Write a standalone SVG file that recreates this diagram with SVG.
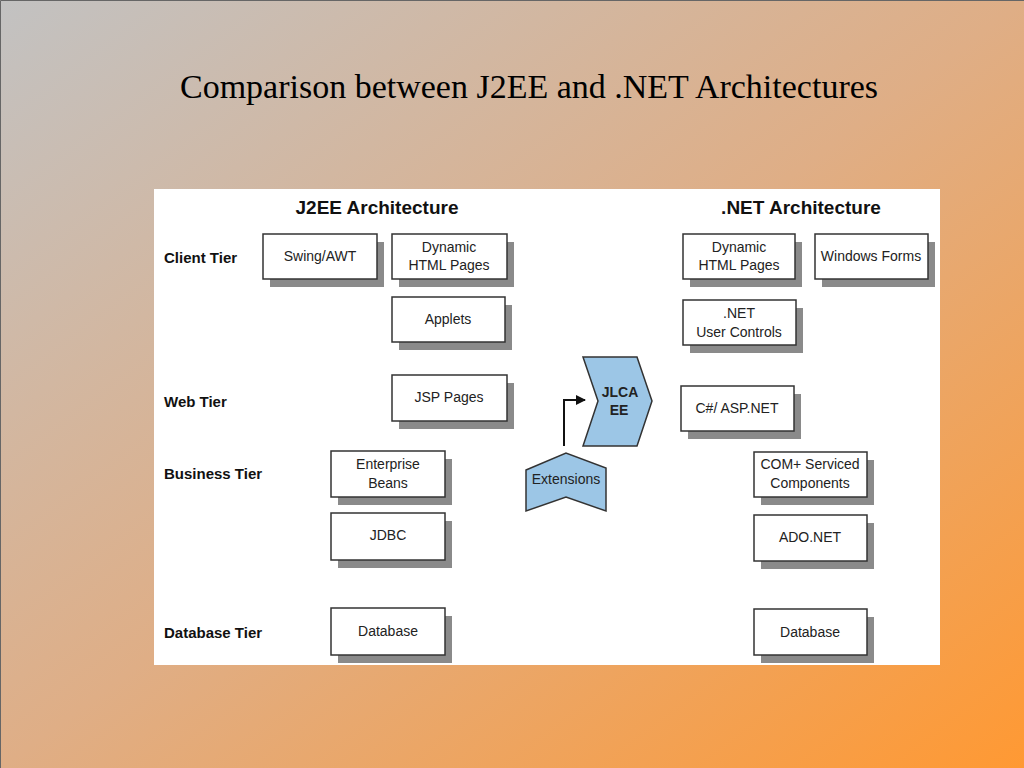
<svg xmlns="http://www.w3.org/2000/svg" width="1024" height="768" viewBox="0 0 1024 768">
<defs>
<linearGradient id="bg" x1="0" y1="0" x2="1" y2="1">
<stop offset="0" stop-color="#c2c2c2"/>
<stop offset="0.5" stop-color="#dfae86"/>
<stop offset="1" stop-color="#ff9933"/>
</linearGradient>
<marker id="ah" viewBox="0 0 10 10" refX="9" refY="5" markerWidth="5" markerHeight="5" orient="auto" markerUnits="strokeWidth">
<path d="M0,0 L10,5 L0,10 z" fill="#111"/>
</marker>
<style>
.box{fill:#fff;stroke:#333;stroke-width:1.5}
.sh{fill:#8a8a8a}
.t{font-family:"Liberation Sans",Arial,sans-serif;font-size:14px;fill:#222;text-anchor:middle}
.tier{font-family:"Liberation Sans",Arial,sans-serif;font-size:15px;font-weight:bold;fill:#111}
.hd{font-family:"Liberation Sans",Arial,sans-serif;font-size:19px;font-weight:bold;fill:#111;text-anchor:middle}
.blue{fill:#9cc6e6;stroke:#333;stroke-width:1.5}
</style>
</defs>
<rect x="0" y="0" width="1024" height="768" fill="url(#bg)"/>
<path d="M0.5,768 V0.5 H1024" fill="none" stroke="#666" stroke-width="1"/>
<text x="529" y="98" font-family="'Liberation Serif','Times New Roman',serif" font-size="34" text-anchor="middle" fill="#000">Comparison between J2EE and .NET Architectures</text>
<rect x="154" y="189" width="786" height="476" fill="#fff"/>
<text class="hd" x="377" y="214">J2EE Architecture</text>
<text class="hd" x="801" y="214">.NET Architecture</text>
<text class="tier" x="164" y="263">Client Tier</text>
<text class="tier" x="164" y="407">Web Tier</text>
<text class="tier" x="164" y="479">Business Tier</text>
<text class="tier" x="164" y="638">Database Tier</text>

<g id="swing"><rect class="sh" x="270" y="242" width="114" height="45"/><rect class="box" x="263" y="234" width="114" height="45"/><text class="t" x="320" y="261">Swing/AWT</text></g>
<g id="jdhtml"><rect class="sh" x="399" y="242" width="115" height="45"/><rect class="box" x="392" y="234" width="115" height="45"/><text class="t" x="449" y="252">Dynamic</text><text class="t" x="449" y="270">HTML Pages</text></g>
<g id="applets"><rect class="sh" x="399" y="305" width="113" height="45"/><rect class="box" x="392" y="297" width="113" height="45"/><text class="t" x="448" y="324">Applets</text></g>
<g id="jsp"><rect class="sh" x="399" y="383" width="115" height="46"/><rect class="box" x="392" y="375" width="115" height="46"/><text class="t" x="449" y="402">JSP Pages</text></g>
<g id="ejb"><rect class="sh" x="338" y="459" width="114" height="46"/><rect class="box" x="331" y="451" width="114" height="46"/><text class="t" x="388" y="469">Enterprise</text><text class="t" x="388" y="488">Beans</text></g>
<g id="jdbc"><rect class="sh" x="338" y="521" width="114" height="47"/><rect class="box" x="331" y="513" width="114" height="47"/><text class="t" x="388" y="540">JDBC</text></g>
<g id="jdb"><rect class="sh" x="338" y="616" width="114" height="47"/><rect class="box" x="331" y="608" width="114" height="47"/><text class="t" x="388" y="636">Database</text></g>

<g id="ndhtml"><rect class="sh" x="690" y="242" width="112" height="45"/><rect class="box" x="683" y="234" width="112" height="45"/><text class="t" x="739" y="252">Dynamic</text><text class="t" x="739" y="270">HTML Pages</text></g>
<g id="winforms"><rect class="sh" x="822" y="242" width="113" height="45"/><rect class="box" x="815" y="234" width="113" height="45"/><text class="t" x="871" y="261">Windows Forms</text></g>
<g id="netuc"><rect class="sh" x="690" y="308" width="113" height="45"/><rect class="box" x="683" y="300" width="113" height="45"/><text class="t" x="739" y="318">.NET</text><text class="t" x="739" y="337">User Controls</text></g>
<g id="csharp"><rect class="sh" x="688" y="394" width="113" height="45"/><rect class="box" x="681" y="386" width="113" height="45"/><text class="t" x="737" y="413">C#/ ASP.NET</text></g>
<g id="complus"><rect class="sh" x="761" y="460" width="113" height="45"/><rect class="box" x="754" y="452" width="113" height="45"/><text class="t" x="810" y="469">COM+ Serviced</text><text class="t" x="810" y="488">Components</text></g>
<g id="adonet"><rect class="sh" x="761" y="523" width="113" height="46"/><rect class="box" x="754" y="515" width="113" height="46"/><text class="t" x="810" y="542">ADO.NET</text></g>
<g id="ndb"><rect class="sh" x="761" y="617" width="113" height="46"/><rect class="box" x="754" y="609" width="113" height="46"/><text class="t" x="810" y="637">Database</text></g>

<g id="jlca"><path class="blue" d="M583,357 L637,357 L652,401 L637,446 L583,446 L598,401 Z"/><text class="t" x="620" y="397" font-size="13" font-weight="bold">JLCA</text><text class="t" x="619" y="415" font-size="13" font-weight="bold">EE</text></g>
<g id="extensions"><path class="blue" d="M526,470 L566,453 L606,468 L606,511 L566,497 L526,511 Z"/><text class="t" x="566" y="484" font-size="13">Extensions</text></g>

<g id="connectors"><path d="M564,446 V400 H585" fill="none" stroke="#111" stroke-width="2" marker-end="url(#ah)"/></g>
</svg>
